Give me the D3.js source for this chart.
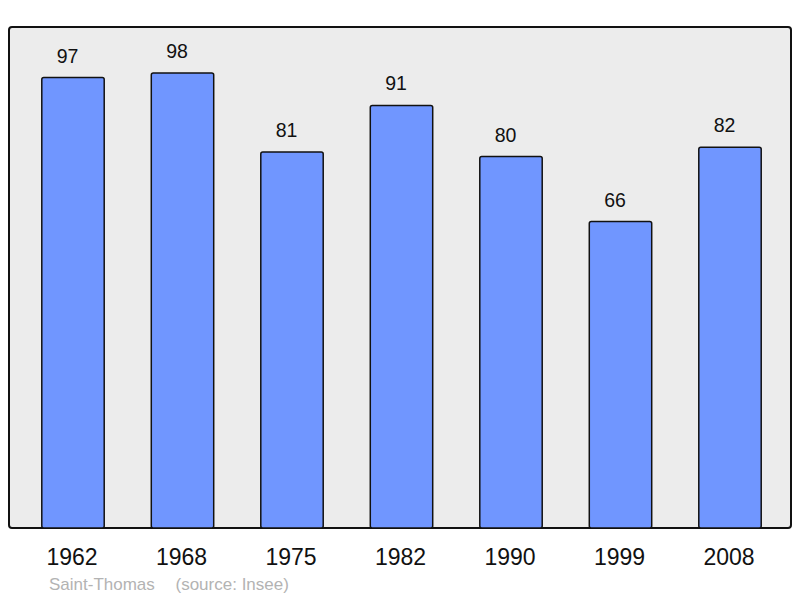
<!DOCTYPE html>
<html><head><meta charset="utf-8">
<script src="https://cdn.jsdelivr.net/npm/d3@7"></script>
<style>html,body{margin:0;padding:0;background:#fff;}svg{display:block;font-family:"Liberation Sans",Arial,sans-serif;}</style>
</head><body>
<svg id="c" width="800" height="598"></svg>
<script>
const years = ["1962","1968","1975","1982","1990","1999","2008"];
const population = [97, 98, 81, 91, 80, 66, 82];
const commune = "Saint-Thomas";
const sourceNote = "(source: Insee)";

const svg = d3.select("#c");
const frame = {x0: 9, y0: 27, x1: 791, y1: 528};

svg.append("rect")
  .attr("x", frame.x0).attr("y", frame.y0)
  .attr("width", frame.x1 - frame.x0).attr("height", frame.y1 - frame.y0)
  .attr("rx", 3).attr("ry", 3)
  .attr("fill", "#ececec").attr("stroke", "#111").attr("stroke-width", 2);

const x = d3.scaleBand().domain(years).range([18.25, 784.75])
  .paddingInner(0.43).paddingOuter(0.215);
const y = d3.scaleLinear().domain([0, 107.9]).range([frame.y1, frame.y0]);

const data = years.map((yr, i) => ({yr, v: population[i]}));

svg.selectAll("rect.bar").data(data).enter().append("rect")
  .attr("class", "bar")
  .attr("x", d => x(d.yr)).attr("y", d => y(d.v))
  .attr("width", x.bandwidth()).attr("height", d => y(0) - y(d.v))
  .attr("rx", 2).attr("ry", 2)
  .attr("fill", "#7096ff").attr("stroke", "#111").attr("stroke-width", 1.5);

svg.selectAll("text.val").data(data).enter().append("text")
  .attr("class", "val")
  .attr("x", d => x(d.yr) + x.bandwidth() / 2 - 5.5)
  .attr("y", d => y(d.v) - 15)
  .attr("text-anchor", "middle").attr("font-size", 19.5).attr("fill", "#111")
  .text(d => d.v);

const xAxis = d3.axisBottom(x).tickSize(0).tickPadding(0);
const gx = svg.append("g").attr("transform", `translate(0,${frame.y1})`).call(xAxis);
gx.select(".domain").remove();
gx.selectAll("text").attr("font-size", 23).attr("fill", "#111")
  .attr("font-family", "Liberation Sans, Arial, sans-serif")
  .attr("dy", null).attr("y", 37).attr("dx", -1);

svg.append("text").attr("x", 49).attr("y", 589.5)
  .attr("font-size", 17).attr("fill", "#b3b3b3").text(commune);
svg.append("text").attr("x", 175.5).attr("y", 589.5)
  .attr("font-size", 17).attr("fill", "#b3b3b3").text(sourceNote);
</script>
</body></html>
